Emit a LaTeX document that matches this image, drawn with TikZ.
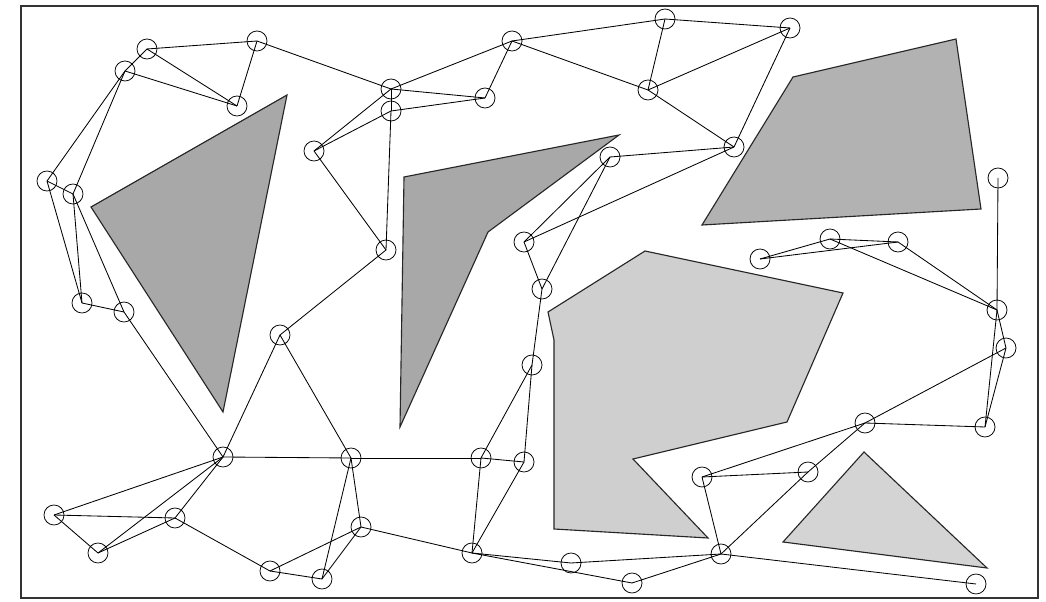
\documentclass[tikz,border=0pt]{standalone}
\begin{document}
\begin{tikzpicture}[x=0.025cm,y=-0.025cm,
  pt/.style={circle,draw=black,line width=0.55pt,minimum size=0.5cm,inner sep=0pt},
  edge/.style={line width=0.6pt,black},
  obsA/.style={fill=black!34,draw=black!85,line width=0.8pt},
  obsB/.style={fill=black!30,draw=black!85,line width=0.8pt},
  obsC/.style={fill=black!19,draw=black!85,line width=0.8pt},
  obsD/.style={fill=black!17,draw=black!85,line width=0.8pt},
  frame/.style={line width=1.1pt,draw=black!80}]
\useasboundingbox (0,0) rectangle (1046,602);
\fill[white] (0,0) rectangle (1046,602);
% obstacles
\draw[obsA] (91,207) -- (287,95) -- (223,412) -- cycle;
\draw[obsA] (404,177) -- (619,135) -- (488,232) -- (400,427) -- cycle;
\draw[obsB] (793,77) -- (956,39) -- (981,209) -- (702,225) -- cycle;
\draw[obsC] (548,312) -- (645,251) -- (843,293) -- (787,422) -- (633,459) -- (708,538) -- (554,529) -- (554,340) -- cycle;
\draw[obsD] (864,452) -- (987,568) -- (783,542) -- cycle;
\draw[frame] (21,6) rectangle (1038,598);
% nodes
\node[pt] (A1) at (147,49) {};
\node[pt] (A2) at (125,71) {};
\node[pt] (A3) at (257,41) {};
\node[pt] (A4) at (237,106) {};
\node[pt] (A5) at (47,181) {};
\node[pt] (A6) at (73,194) {};
\node[pt] (A7) at (82,303) {};
\node[pt] (A8) at (124,312) {};
\node[pt] (B1) at (391,89) {};
\node[pt] (B2) at (391,111) {};
\node[pt] (B3) at (485,98) {};
\node[pt] (B4) at (512,41) {};
\node[pt] (B5) at (314,151) {};
\node[pt] (B6) at (386,250) {};
\node[pt] (B7) at (665,19) {};
\node[pt] (B8) at (648,90) {};
\node[pt] (B9) at (610,157) {};
\node[pt] (B10) at (524,242) {};
\node[pt] (B11) at (542,289) {};
\node[pt] (C1) at (790,28) {};
\node[pt] (C2) at (734,147) {};
\node[pt] (C3) at (998,178) {};
\node[pt] (C4) at (830,239) {};
\node[pt] (C5) at (898,242) {};
\node[pt] (C6) at (760,259) {};
\node[pt] (C7) at (997,310) {};
\node[pt] (C8) at (1006,348) {};
\node[pt] (D1) at (865,423) {};
\node[pt] (D2) at (985,427) {};
\node[pt] (D3) at (702,477) {};
\node[pt] (D4) at (808,472) {};
\node[pt] (D5) at (721,554) {};
\node[pt] (D6) at (976,584) {};
\node[pt] (E1) at (532,365) {};
\node[pt] (E2) at (481,458) {};
\node[pt] (E3) at (524,462) {};
\node[pt] (E4) at (472,553) {};
\node[pt] (E5) at (571,563) {};
\node[pt] (E6) at (632,583) {};
\node[pt] (F1) at (280,335) {};
\node[pt] (F2) at (223,457) {};
\node[pt] (F3) at (351,458) {};
\node[pt] (F4) at (54,515) {};
\node[pt] (F5) at (98,553) {};
\node[pt] (F6) at (175,518) {};
\node[pt] (F7) at (361,527) {};
\node[pt] (F8) at (270,571) {};
\node[pt] (F9) at (322,579) {};
% edges
\foreach \a/\b in {A1/A3,A1/A4,A2/A4,A3/A4,A1/A2,A3/B1,A2/A5,A2/A6,A5/A6,A5/A7,A6/A7,A7/A8,A6/A8,A8/F2,
  B1/B4,B1/B3,B2/B3,B3/B4,B1/B5,B2/B5,B2/B6,B1/B2,B5/B6,B6/F1,B4/B7,B4/B8,B8/C2,B7/B8,B7/C1,B8/C1,C1/C2,
  C2/B9,C2/B10,B9/B10,B9/B11,B10/B11,B11/E1,E1/E2,E1/E3,E2/E3,E2/E4,E3/E4,
  F2/F3,F3/E2,F1/F2,F1/F3,F2/F4,F2/F5,F2/F6,F4/F6,F4/F5,F5/F6,F6/F8,F8/F9,F8/F7,F3/F7,F3/F9,F9/F7,F7/E4,
  E4/E5,E4/E6,E5/D5,E6/D5,D5/D3,D5/D4,D4/D1,D5/D6,D3/D4,D3/D1,D1/D2,D1/C8,D2/C7,D2/C8,C7/C8,C3/C7,C7/C4,C7/C5,C4/C5,C6/C4,C6/C5}
  \draw[edge] (\a.center) -- (\b.center);
\end{tikzpicture}
\end{document}
